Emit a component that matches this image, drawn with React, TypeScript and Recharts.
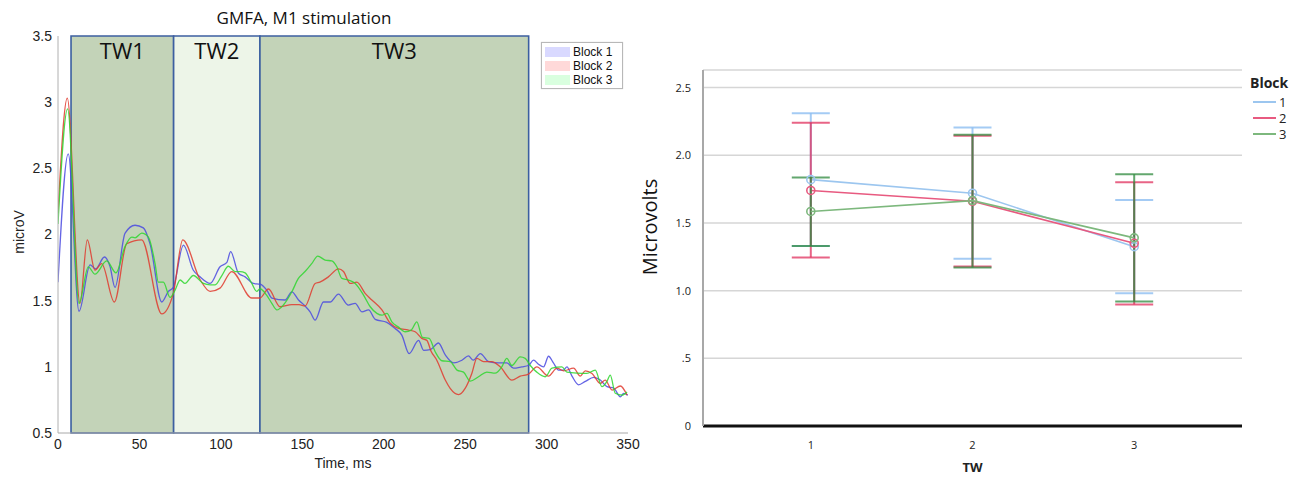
import React from 'react';
import {
  LineChart,
  Line,
  XAxis,
  YAxis,
  ReferenceArea,
  Legend,
  ComposedChart,
  CartesianGrid,
  ErrorBar,
  Label,
} from 'recharts';

// ---------- Left chart: GMFA waveforms ----------
const timeTicks = [0, 50, 100, 150, 200, 250, 300, 350];
const microVTicks = [0.5, 1, 1.5, 2, 2.5, 3, 3.5];
const windowNames = ['TW1', 'TW2', 'TW3'];
const windowStarts = [8, 71, 124];
const windowEnds = [71, 124, 289];
const waveNames = ['Block 1', 'Block 2', 'Block 3'];

const block1Wave: [number, number][] = [
  [0, 1.64], [6.3, 2.61], [12.9, 1.42], [19.7, 1.77], [23.1, 1.74], [28.5, 1.83], [31.9, 1.76], [35, 1.6],
  [41.2, 2.01], [47.3, 2.07], [52.4, 2.05], [56.5, 1.93], [63.7, 1.49], [67.8, 1.57], [70.8, 1.6], [77, 1.92],
  [83.1, 1.73], [87.2, 1.68], [93.4, 1.63], [99.5, 1.756], [103.7, 1.79], [106, 1.87], [110.8, 1.707],
  [114.9, 1.68], [120, 1.63], [124, 1.625], [128.2, 1.58], [131.3, 1.52], [139.5, 1.505], [143.6, 1.567],
  [147.7, 1.505], [151.7, 1.46], [154.8, 1.416], [157.9, 1.353], [163, 1.49], [167.1, 1.49], [172.2, 1.55],
  [178.3, 1.467], [182.5, 1.48], [186.6, 1.416], [190.7, 1.43], [194.8, 1.359], [201.9, 1.336], [207, 1.29],
  [211.1, 1.24], [215.6, 1.1], [221.4, 1.2], [224.5, 1.125], [228.6, 1.13], [233.6, 1.18], [237.8, 1.09],
  [242.9, 1.03], [248, 1.05], [252, 1.083], [255, 1.05], [259.3, 1.1], [264.4, 1.04], [270.5, 1.03],
  [275.6, 1.03], [279.7, 0.99], [284.8, 1.0], [288.9, 1.01], [292, 1.05], [295, 1.02], [298.2, 1.0],
  [301.2, 1.08], [304.2, 1.03], [307.4, 0.975], [310.4, 0.975], [312.5, 1.0], [315.6, 0.93], [319.7, 0.864],
  [323.8, 0.89], [328.9, 0.92], [333, 0.9], [337.1, 0.85], [341.2, 0.84], [345.3, 0.773], [347.3, 0.8],
  [350, 0.785],
];

const block2Wave: [number, number][] = [
  [0, 2.16], [5.7, 3.03], [13.5, 1.48], [18, 1.96], [22.7, 1.73], [26.8, 1.78], [34.6, 1.49], [42.2, 1.93],
  [51.4, 1.96], [63.7, 1.4], [70.8, 1.555], [76.6, 1.96], [87.2, 1.66], [93.4, 1.57], [99.5, 1.595],
  [106.7, 1.72], [119, 1.52], [124, 1.52], [129.2, 1.588], [136.4, 1.454], [143.6, 1.47], [148, 1.47],
  [151.7, 1.46], [157.9, 1.63], [160.8, 1.64], [166, 1.68], [172.2, 1.74], [175.3, 1.72], [179.4, 1.63],
  [183.5, 1.64], [188.6, 1.555], [192.7, 1.505], [198.9, 1.43], [204, 1.33], [209.1, 1.29], [215.2, 1.278],
  [219.3, 1.265], [223.4, 1.215], [226.5, 1.2], [229, 1.12], [232.6, 1.05], [237.8, 0.9], [240.8, 0.837],
  [246, 0.79], [250, 0.837], [254.1, 0.95], [257.2, 1.064], [261.3, 1.04], [266.4, 1.04], [271.5, 1.0],
  [278.7, 0.9], [283.8, 0.93], [288.9, 0.945], [294, 1.0], [301.2, 0.93], [306.4, 0.99], [310.5, 0.97],
  [316.6, 0.99], [320.7, 0.93], [323.8, 0.97], [327.9, 0.95], [333, 0.875], [336, 0.9], [340.2, 0.824],
  [345.3, 0.855], [349.4, 0.786],
];

const block3Wave: [number, number][] = [
  [0, 2.08], [5.9, 2.95], [12.9, 1.48], [18.6, 1.756], [22.7, 1.7], [29.9, 1.8], [35.6, 1.71], [41.2, 1.91],
  [45.3, 1.98], [47.3, 1.975], [51.4, 2.01], [55.5, 1.98], [59.6, 1.78], [61.6, 1.64], [64.7, 1.64],
  [68.8, 1.525], [71.9, 1.58], [75, 1.656], [78, 1.63], [83.1, 1.69], [89.3, 1.63], [93.4, 1.62],
  [96.5, 1.62], [100.6, 1.69], [104.6, 1.76], [108.7, 1.72], [111.8, 1.72], [114.9, 1.71], [119, 1.63],
  [122, 1.57], [124, 1.59], [128.2, 1.54], [131.3, 1.48], [134.4, 1.43], [138.4, 1.467], [143.6, 1.567],
  [147.6, 1.668], [151.7, 1.72], [155.8, 1.78], [159.5, 1.837], [164, 1.807], [168.1, 1.8], [171.2, 1.756],
  [174.3, 1.668], [178.4, 1.656], [182.5, 1.63], [187.6, 1.542], [191.7, 1.454], [195.8, 1.404],
  [198.9, 1.39], [202, 1.404], [205, 1.34], [209.1, 1.3], [213.2, 1.265], [216.9, 1.277], [220.3, 1.34],
  [223.8, 1.222], [227.9, 1.215], [231.6, 1.114], [235.7, 1.046], [240.8, 1.04], [245, 0.975], [249, 0.96],
  [253.1, 0.892], [258.2, 0.925], [263.3, 0.96], [268.4, 0.952], [272.5, 1.0], [275.6, 1.064], [278.7, 1.01],
  [283.8, 1.076], [286.9, 1.064], [290, 1.01], [294, 0.96], [299.2, 0.925], [303.3, 0.99], [309.4, 1.0],
  [312.5, 0.96], [318.7, 0.952], [324.8, 0.95], [329.9, 0.975], [334, 0.85], [337.1, 0.89], [339.1, 0.937],
  [342.2, 0.8], [346.3, 0.786], [349.4, 0.81],
];

// ---------- Right chart: means with error bars ----------
const twCategories = [1, 2, 3];
const blockNames = ['1', '2', '3'];
const block1Means = [1.82, 1.72, 1.325];
const block1Upper = [2.31, 2.205, 1.67];
const block1Lower = [1.33, 1.235, 0.98];
const block2Means = [1.74, 1.66, 1.35];
const block2Upper = [2.24, 2.145, 1.8];
const block2Lower = [1.245, 1.178, 0.898];
const block3Means = [1.585, 1.665, 1.39];
const block3Upper = [1.835, 2.152, 1.86];
const block3Lower = [1.33, 1.171, 0.92];
const microvoltTicks = [0, 0.5, 1, 1.5, 2, 2.5];

const toPoints = (arr: [number, number][]) => arr.map(([t, v]) => ({ t, v }));

const meanRows = twCategories.map((tw, i) => ({
  tw,
  b1: block1Means[i],
  b1Err: [block1Means[i] - block1Lower[i], block1Upper[i] - block1Means[i]],
  b2: block2Means[i],
  b2Err: [block2Means[i] - block2Lower[i], block2Upper[i] - block2Means[i]],
  b3: block3Means[i],
  b3Err: [block3Means[i] - block3Lower[i], block3Upper[i] - block3Means[i]],
}));

const WAVE_COLORS = ['#4a4ae0', '#e0392e', '#2fd62f'];
const PATCH_COLORS = ['#d9d9ff', '#ffd9d9', '#d9ffdf'];
const WINDOW_FILLS = ['#c3d3b8', '#edf5e8', '#c3d3b8'];
const MEAN_LINE = ['#9cc6ef', '#e85a80', '#7db87d'];
const ERR_COLORS = ['#86baf0', '#e0305e', '#2f8a3e'];

const sans = 'Liberation Sans, Arial, sans-serif';
const open = 'Open Sans, sans-serif';

const WaveLegend = () => (
  <div
    style={{
      border: '1px solid #b8b8b8',
      background: '#fff',
      padding: '2px 3px 1px 3px',
      width: 74,
      fontFamily: sans,
      fontSize: 12,
      color: '#111',
      lineHeight: '14px',
      boxShadow: '0 0 1px #ccc',
    }}
  >
    {waveNames.map((n, i) => (
      <div key={n} style={{ display: 'flex', alignItems: 'center', height: 14 }}>
        <span style={{ display: 'inline-block', width: 25, height: 10, background: PATCH_COLORS[i], marginRight: 3 }} />
        <span>{n}</span>
      </div>
    ))}
  </div>
);

const BlockLegend = () => (
  <div style={{ fontFamily: open, color: '#222' }}>
    <div style={{ fontWeight: 700, fontSize: 14, lineHeight: '18px', marginBottom: 2 }}>Block</div>
    {blockNames.map((n, i) => (
      <div key={n} style={{ display: 'flex', alignItems: 'center', height: 16, fontSize: 13 }}>
        <svg width={26} height={16} style={{ marginLeft: 3 }}>
          <line x1={0} y1={8} x2={23} y2={8} stroke={MEAN_LINE[i]} strokeWidth={2} />
        </svg>
        <span>{n}</span>
      </div>
    ))}
  </div>
);

const LeftChart = () => (
  <div style={{ position: 'absolute', left: 0, top: 0, width: 640, height: 477 }}>
    <div
      style={{
        position: 'absolute',
        left: 0,
        width: 608,
        top: 6,
        textAlign: 'center',
        fontFamily: open,
        fontSize: 17,
        color: '#111',
      }}
    >
      GMFA, M1 stimulation
    </div>
    <LineChart width={640} height={477} margin={{ top: 36, right: 12, bottom: 14, left: 18 }}>
      {windowNames.map((n, i) => (
        <ReferenceArea
          key={n}
          x1={windowStarts[i]}
          x2={windowEnds[i]}
          y1={0.5}
          y2={3.5}
          fill={WINDOW_FILLS[i]}
          fillOpacity={1}
          stroke="#3c5fa0"
          strokeWidth={1.6}
          strokeOpacity={1}
          label={{ value: n, position: 'insideTop', offset: 7, fontSize: 22, fill: '#111', fontFamily: open }}
        />
      ))}
      <XAxis
        dataKey="t"
        type="number"
        domain={[0, 350]}
        ticks={timeTicks}
        allowDataOverflow
        height={30}
        axisLine={{ stroke: '#a8a8a8' }}
        tickLine={false}
        tickSize={4}
        tickMargin={2}
        tick={{ fontSize: 14, fill: '#222', fontFamily: sans }}
      >
        <Label
          content={() => (
            <text x={343} y={468} textAnchor="middle" fontSize={14} fill="#222" fontFamily={sans}>
              Time, ms
            </text>
          )}
        />
      </XAxis>
      <YAxis
        type="number"
        domain={[0.5, 3.5]}
        ticks={microVTicks}
        allowDataOverflow
        width={40}
        axisLine={{ stroke: '#b0b0b0' }}
        tickLine={false}
        tickSize={3}
        tickMargin={3}
        tick={{ fontSize: 14, fill: '#222', fontFamily: sans }}
      >
        <Label
          content={() => (
            <text
              x={24}
              y={232}
              transform="rotate(-90, 24, 232)"
              textAnchor="middle"
              fontSize={14}
              fill="#222"
              fontFamily={sans}
            >
              microV
            </text>
          )}
        />
      </YAxis>
      {[block1Wave, block2Wave, block3Wave].map((w, i) => (
        <Line
          key={waveNames[i]}
          name={waveNames[i]}
          data={toPoints(w)}
          dataKey="v"
          type="monotone"
          dot={false}
          stroke={WAVE_COLORS[i]}
          strokeWidth={1.3}
          strokeOpacity={0.85}
          isAnimationActive={false}
        />
      ))}
      <Legend
        layout="vertical"
        align="center"
        verticalAlign="middle"
        wrapperStyle={{ position: 'absolute', left: 541, top: 42, width: 'auto', height: 'auto' }}
        content={() => <WaveLegend />}
      />
    </LineChart>
  </div>
);

const RightChart = () => (
  <div style={{ position: 'absolute', left: 630, top: 0, width: 671, height: 477 }}>
    <ComposedChart width={671} height={477} data={meanRows} margin={{ top: 70, right: 59, bottom: 21, left: 23 }}>
      <CartesianGrid vertical={false} stroke="#d6d6d6" strokeWidth={1.5} />
      <XAxis
        dataKey="tw"
        type="number"
        domain={[1 / 3, 11 / 3]}
        ticks={twCategories}
        height={30}
        axisLine={{ stroke: '#111', strokeWidth: 3 }}
        tickLine={false}
        tickSize={10}
        tickMargin={5}
        tick={{ fontSize: 11, fill: '#222', fontFamily: open }}
      >
        <Label
          content={() => (
            <text x={342.5} y={472} textAnchor="middle" fontSize={13} fontWeight={700} fill="#222" fontFamily={open}>
              TW
            </text>
          )}
        />
      </XAxis>
      <YAxis
        type="number"
        domain={[0, 2.63]}
        ticks={microvoltTicks}
        width={50}
        axisLine={{ stroke: '#a8a8a8', strokeWidth: 2 }}
        tickLine={false}
        tickSize={6}
        tickMargin={6}
        tickFormatter={(v: number) => (v === 0 ? '0' : v < 1 ? '.5' : v.toFixed(1))}
        tick={{ fontSize: 11, fill: '#222', fontFamily: open }}
      >
        <Label
          content={() => (
            <text
              x={27}
              y={227}
              transform="rotate(-90, 27, 227)"
              textAnchor="middle"
              fontSize={20}
              fill="#111"
              fontFamily={open}
            >
              Microvolts
            </text>
          )}
        />
      </YAxis>
      {['b1', 'b2', 'b3'].map((k, i) => (
        <Line
          key={k}
          name={blockNames[i]}
          dataKey={k}
          type="linear"
          stroke={MEAN_LINE[i]}
          strokeWidth={1.6}
          dot={{ r: 4, stroke: MEAN_LINE[i], strokeWidth: 1.6, fill: 'none' }}
          activeDot={false}
          isAnimationActive={false}
        >
          <ErrorBar
            dataKey={`${k}Err`}
            width={19}
            stroke={ERR_COLORS[i]}
            strokeWidth={2}
            strokeOpacity={0.75}
            direction="y"
            isAnimationActive={false}
          />
        </Line>
      ))}
      <Legend
        layout="vertical"
        align="center"
        verticalAlign="middle"
        wrapperStyle={{ position: 'absolute', left: 620, top: 74, width: 'auto', height: 'auto' }}
        content={() => <BlockLegend />}
      />
    </ComposedChart>
  </div>
);

export default function App() {
  return (
    <div style={{ position: 'absolute', left: 0, top: 0, width: 1301, height: 477, background: '#fff', fontFamily: sans }}>
      <LeftChart />
      <RightChart />
    </div>
  );
}
